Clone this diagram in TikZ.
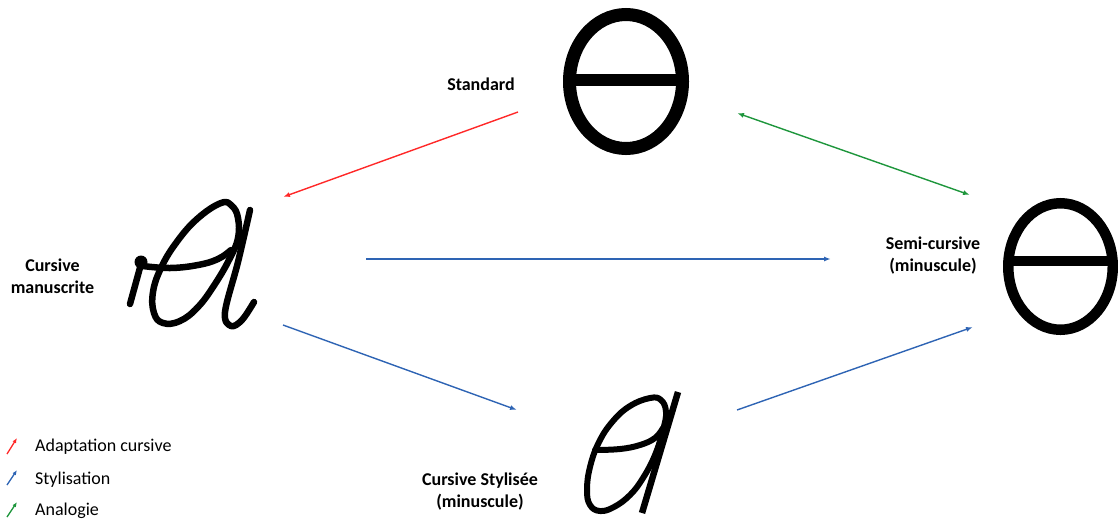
\documentclass[tikz,border=0pt]{standalone}
\usepackage{fontspec}
\setmainfont{Carlito}
\usetikzlibrary{arrows.meta}
\definecolor{cred}{RGB}{255,40,40}
\definecolor{cblue}{RGB}{46,100,180}
\definecolor{cgreen}{RGB}{30,150,60}
\begin{document}
\begin{tikzpicture}[x=1pt,y=-1pt,
  lbl/.style={font=\fontsize{18}{22}\selectfont\bfseries, align=center, inner sep=0pt},
  leg/.style={font=\fontsize{18}{22}\selectfont, anchor=west, inner sep=0pt},
  conn/.style={line width=1.4pt, -{Latex[length=7pt,width=5pt]}},
  dconn/.style={line width=1.4pt, {Latex[length=7pt,width=5pt]}-{Latex[length=7pt,width=5pt]}},
  legarrow/.style={line width=1.3pt, -{Latex[length=5pt,width=4pt]}},
  glyph/.style={line width=6.5pt, line cap=round, line join=round},
  glyphb/.style={line width=6pt, line cap=round, line join=round},
]
\useasboundingbox (0,0) rectangle (1118,523);
\begin{scope}
\clip (0,0) rectangle (1118,523);

% Standard theta
\draw[line width=13pt] (626,81.5) ellipse [x radius=56.5, y radius=67];
\draw[line width=12.5pt] (571,80) -- (681,80);

% Semi-cursive theta
\draw[line width=10.5pt] (1060.5,266.5) ellipse [x radius=52.25, y radius=63.25];
\draw[line width=10pt] (1009,260.5) -- (1112,260.5);

% Cursive manuscrite
\fill (141,262) circle (6.5);
\draw[glyph] (141,264) -- (130,304);
\draw[glyph] plot[smooth cycle, tension=0.7] coordinates {(221,203) (197,219) (176,243) (161,268) (153,292) (154,313) (163,323) (180,321) (198,307) (215,284) (230,258) (238,238) (238,218) (232,206)};
\draw[glyph] plot[smooth, tension=0.7] coordinates {(143,266) (170,268) (198,265) (218,259) (231,250)};
\draw[glyph] plot[smooth, tension=0.6] coordinates {(250,210) (238,262) (225,312) (231,326) (242,320) (254,302)};

% Cursive stylisee
\draw[glyphb] plot[smooth cycle, tension=0.7] coordinates {(650,398) (630,406) (613,421) (599,442) (590,467) (587,490) (590,505) (600,511) (614,507) (630,495) (643,478) (655,455) (663,430) (666,412) (661,400)};
\draw[glyphb] plot[smooth, tension=0.7] coordinates {(595,450) (620,449) (640,445) (655,438) (663,428)};
\draw[line width=6.5pt] (678,392) -- (642,513);
\end{scope}

% labels
\node[lbl] (lstd) at (481,84) {Standard};
\node[lbl] (lman) at (52.5,276) {Cursive\\manuscrite};
\node[lbl] (lsemi) at (933,256) {Semi-cursive\\(minuscule)};
\node[lbl] (lsty) at (480,492) {Cursive Stylisée\\(minuscule)};

% connector endpoints
\coordinate (std-sw) at (518,112);
\coordinate (std-se) at (737,113);
\coordinate (man-ne) at (283,197);
\coordinate (man-e) at (366,259);
\coordinate (man-se) at (283,325);
\coordinate (semi-nw) at (970,195);
\coordinate (semi-w) at (831,259);
\coordinate (semi-sw) at (973,327);
\coordinate (sty-nw) at (517,410);
\coordinate (sty-ne) at (737,410);

\draw[conn, cred] (std-sw) -- (man-ne);
\draw[dconn, cgreen] (std-se) -- (semi-nw);
\draw[conn, cblue] (man-e) -- (semi-w);
\draw[conn, cblue] (man-se) -- (sty-nw);
\draw[conn, cblue] (sty-ne) -- (semi-sw);

% legend
\coordinate (lr1) at (7,454); \coordinate (lr2) at (17,438);
\coordinate (lb1) at (7,485); \coordinate (lb2) at (17,470);
\coordinate (lg1) at (7,517); \coordinate (lg2) at (17,502);
\draw[legarrow, cred] (lr1) -- (lr2);
\draw[legarrow, cblue] (lb1) -- (lb2);
\draw[legarrow, cgreen] (lg1) -- (lg2);
\node[leg] (t1) at (35,447) {Adaptation cursive};
\node[leg] (t2) at (35,480) {Stylisation};
\node[leg] (t3) at (35,511) {Analogie};
\end{tikzpicture}
\end{document}
